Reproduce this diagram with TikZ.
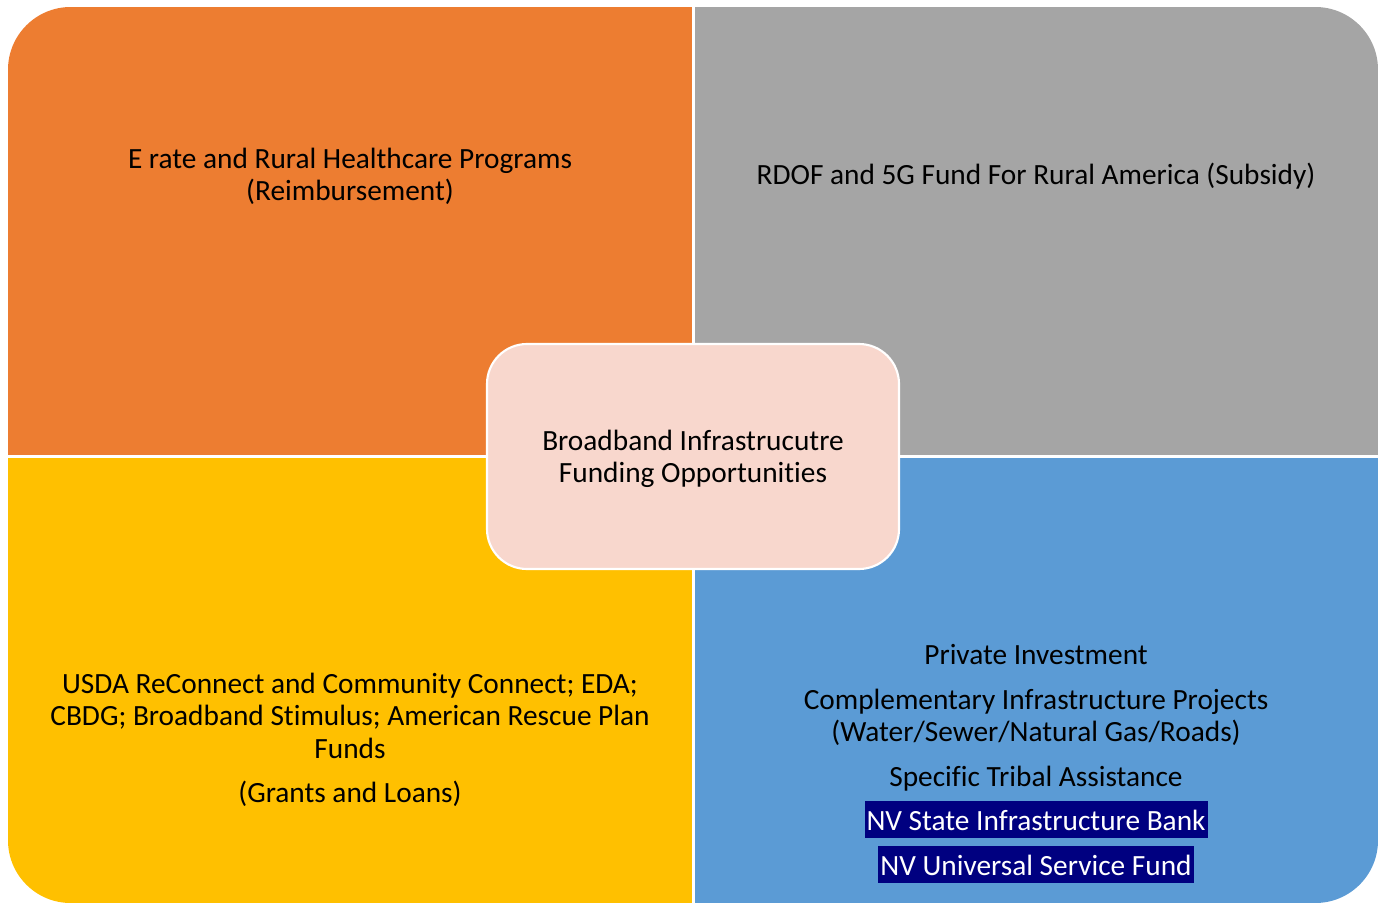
\documentclass[tikz,border=0pt]{standalone}
\usepackage{fontspec}
\setmainfont{Carlito}[Ligatures=NoCommon]
\definecolor{qorange}{RGB}{237,125,49}
\definecolor{qgray}{RGB}{165,165,165}
\definecolor{qyellow}{RGB}{255,192,0}
\definecolor{qblue}{RGB}{91,155,213}
\definecolor{qcenter}{RGB}{248,215,205}
\definecolor{qnavy}{RGB}{0,0,128}
\tikzset{
  txt/.style={anchor=base, inner sep=0pt, font=\fontsize{22}{26}\selectfont, text=black},
  hl/.style={anchor=base, inner xsep=1.5pt, inner ysep=0pt, text height=21.5pt, text depth=6pt,
    fill=qnavy, text=white, font=\fontsize{22}{26}\selectfont},
  gap/.style={draw=white, line width=2.25pt},
  centerbox/.style={draw=white, line width=1.6pt, fill=qcenter, rounded corners=30pt}
}
\begin{document}
\begin{tikzpicture}[x=0.75pt, y=-0.75pt]
\useasboundingbox (0,0) rectangle (1385,903);
\begin{scope}
  \clip[rounded corners=47pt] (8,7) rectangle (1378,903);
  \fill[qorange] (8,7) rectangle (693,456);
  \fill[qgray] (693,7) rectangle (1378,456);
  \fill[qyellow] (8,456) rectangle (693,903);
  \fill[qblue] (693,456) rectangle (1378,903);
\end{scope}
\coordinate (vt) at (693,0);
\coordinate (vb) at (693,903);
\coordinate (hl) at (0,456);
\coordinate (hr) at (1385,456);
\draw[gap] (vt) -- (vb);
\draw[gap] (hl) -- (hr);
\draw[centerbox] (487,344) rectangle (899,569);

% top-left
\node[txt] (tl1) at (350,168) {E rate and Rural Healthcare Programs};
\node[txt] (tl2) at (350,200) {(Reimbursement)};
% top-right
\node[txt] (tr1) at (1036,184) {RDOF and 5G Fund For Rural America (Subsidy)};
% center
\node[txt] (c1) at (693,450) {Broadband Infrastrucutre};
\node[txt] (c2) at (693,482) {Funding Opportunities};
% bottom-left
\node[txt] (bl1) at (350,693) {USDA ReConnect and Community Connect; EDA;};
\node[txt] (bl2) at (350,725) {CBDG; Broadband Stimulus; American Rescue Plan};
\node[txt] (bl3) at (350,758) {Funds};
\node[txt] (bl4) at (350,802) {(Grants and Loans)};
% bottom-right
\node[txt] (br1) at (1036,664) {Private Investment};
\node[txt] (br2) at (1036,709) {Complementary Infrastructure Projects};
\node[txt] (br3) at (1036,741) {(Water/Sewer/Natural Gas/Roads)};
\node[txt] (br4) at (1036,786) {Specific Tribal Assistance};
\node[hl] (br5) at (1036,830) {NV State Infrastructure Bank};
\node[hl] (br6) at (1036,875) {NV Universal Service Fund};
\end{tikzpicture}
\end{document}
